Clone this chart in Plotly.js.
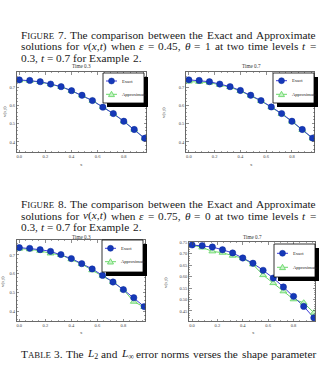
<!DOCTYPE html>
<html><head><meta charset="utf-8">
<script src="https://cdn.plot.ly/plotly-3.0.1.min.js"></script>
<style>html,body{margin:0;padding:0;background:#fff}#c{width:321px;height:368px}</style>
</head><body><div id="c"></div>
<script>
// ---- data ----
const xs = [0,0.08,0.16,0.24,0.32,0.40,0.48,0.56,0.64,0.72,0.80,0.88,0.96];
// Figure 7 (eps=0.45, theta=1)
const exact7_t03  = [0.739,0.736,0.729,0.716,0.702,0.680,0.655,0.626,0.590,0.555,0.513,0.468,0.420];
const approx7_t03 = [0.736,0.734,0.728,0.715,0.701,0.679,0.654,0.625,0.590,0.554,0.512,0.467,0.419];
const exact7_t07  = [0.739,0.736,0.729,0.716,0.702,0.681,0.655,0.626,0.591,0.555,0.513,0.468,0.421];
const approx7_t07 = [0.730,0.728,0.724,0.712,0.699,0.678,0.653,0.624,0.589,0.553,0.511,0.466,0.419];
// Figure 8 (eps=0.75, theta=0)
const exact8_t03  = [0.739,0.735,0.728,0.719,0.702,0.681,0.654,0.626,0.592,0.557,0.517,0.474,0.427];
const approx8_t03 = [0.733,0.730,0.722,0.708,0.700,0.677,0.652,0.619,0.590,0.557,0.517,0.453,0.425];
const exact8_t07  = [0.739,0.736,0.730,0.718,0.704,0.682,0.659,0.628,0.594,0.555,0.514,0.470,0.420];
const approx8_t07 = [0.739,0.728,0.711,0.705,0.692,0.681,0.654,0.607,0.572,0.536,0.501,0.486,0.442];
const seriesNames = ['Exact','Approximate'];
const panelTitles = ['Time 0.3','Time 0.7','Time 0.3','Time 0.7'];

// ---- helpers ----
const W=321,H=368;
const px=x=>x/W, py=y=>1-y/H;
const EXC='#1538b8', EXL='#3a3ad8', APL='#6ad86a', APF='#c6f2c6';
const SERIF='Liberation Serif, Times New Roman, serif';

const panels = [
  {ex:exact7_t03, ap:approx7_t03, fx:[16.7,146.5], fy:[72,152], xr:[-0.02,0.974], yr:[0.345,0.782], yd:0.1, ym:0.02, yf:'.1f',
   box:[103,73,144,103], e:81, a:94.3, title:[82,66], xt:[82,164], yt:[5,112]},
  {ex:exact7_t07, ap:approx7_t07, fx:[186,314.5], fy:[72,152], xr:[-0.022,0.975], yr:[0.345,0.782], yd:0.1, ym:0.02, yf:'.1f',
   box:[273,73,314,103], e:80.7, a:94.3, title:[251,66], xt:[251,164], yt:[164,112]},
  {ex:exact8_t03, ap:approx8_t03, fx:[16.7,145.5], fy:[240,321], xr:[-0.02,0.97], yr:[0.351,0.779], yd:0.1, ym:0.02, yf:'.1f',
   box:[102,240,143,272], e:248.3, a:261.7, title:[82,236.5], xt:[82,332], yt:[3,282]},
  {ex:exact8_t07, ap:approx8_t07, fx:[189,315], fy:[242,321], xr:[-0.024,0.969], yr:[0.406,0.752], yd:0.05, ym:0.01, yf:'.2f',
   box:[274,244,315,277], e:253.3, a:267.3, title:[252,237], xt:[253,332], yt:[166,282]}
];

const data=[]; const layout={width:W,height:H,margin:{l:0,r:0,t:0,b:0},showlegend:false,
  paper_bgcolor:'#fff',plot_bgcolor:'#fff',shapes:[],annotations:[]};

panels.forEach((p,i)=>{
  const n=i===0?'':String(i+1);
  const xa='x'+n, ya='y'+n;
  data.push({x:xs,y:p.ap,xaxis:xa,yaxis:ya,mode:'lines',line:{color:APL,width:1},hoverinfo:'skip'});
  data.push({x:xs,y:p.ex,xaxis:xa,yaxis:ya,mode:'lines',line:{color:EXL,width:1},hoverinfo:'skip'});
  data.push({x:xs,y:p.ap,xaxis:xa,yaxis:ya,mode:'markers',marker:{symbol:'triangle-up',size:6,color:APF,line:{color:APL,width:0.9}},hoverinfo:'skip'});
  data.push({x:xs,y:p.ex,xaxis:xa,yaxis:ya,mode:'markers',marker:{symbol:'circle',size:6.3,color:EXC,line:{color:'#0a2a9a',width:0.5}},hoverinfo:'skip'});
  const axCommon={showgrid:false,zeroline:false,showline:true,linecolor:'#444',linewidth:0.8,mirror:'allticks',
    ticks:'inside',ticklen:2.5,tickwidth:0.6,tickcolor:'#444',tickfont:{family:SERIF,size:4.5,color:'#444'}};
  layout['xaxis'+n]=Object.assign({},axCommon,{domain:[px(p.fx[0]),px(p.fx[1])],range:p.xr,anchor:ya,
    dtick:0.2,tick0:0,tickformat:'.1f',minor:{dtick:0.05,ticks:'inside',ticklen:1.3,tickcolor:'#444',tickwidth:0.5}});
  layout['yaxis'+n]=Object.assign({},axCommon,{domain:[py(p.fy[1]),py(p.fy[0])],range:p.yr,anchor:xa,
    dtick:p.yd,tick0:0,tickformat:p.yf,minor:{dtick:p.ym,ticks:'inside',ticklen:1.3,tickcolor:'#444',tickwidth:0.5}});
  // legend (shadowed box)
  const b=p.box;
  layout.shapes.push({type:'rect',xref:'paper',yref:'paper',x0:px(b[0]+4),x1:px(b[2]+4),y0:py(b[3]+4),y1:py(b[1]+4),fillcolor:'#000',line:{width:0}});
  layout.shapes.push({type:'rect',xref:'paper',yref:'paper',x0:px(b[0]),x1:px(b[2]),y0:py(b[3]),y1:py(b[1]),fillcolor:'#fff',line:{color:'#000',width:0.8}});
  const sx0=b[0]+3, sx1=b[0]+14, sc=(sx0+sx1)/2;
  layout.shapes.push({type:'line',xref:'paper',yref:'paper',x0:px(sx0),x1:px(sx1),y0:py(p.e),y1:py(p.e),line:{color:EXL,width:1}});
  layout.shapes.push({type:'circle',xref:'paper',yref:'paper',x0:px(sc-3),x1:px(sc+3),y0:py(p.e+3),y1:py(p.e-3),fillcolor:EXC,line:{color:'#0a2a9a',width:0.5}});
  layout.shapes.push({type:'line',xref:'paper',yref:'paper',x0:px(sx0),x1:px(sx1),y0:py(p.a),y1:py(p.a),line:{color:APL,width:1}});
  layout.shapes.push({type:'path',xref:'paper',yref:'paper',
    path:`M ${px(sc-3)} ${py(p.a+2.3)} L ${px(sc+3)} ${py(p.a+2.3)} L ${px(sc)} ${py(p.a-3)} Z`,fillcolor:APF,line:{color:APL,width:0.9}});
  layout.annotations.push({xref:'paper',yref:'paper',x:px(b[0]+16.5),y:py(p.e),xanchor:'left',yanchor:'middle',showarrow:false,
    text:seriesNames[0],font:{family:SERIF,size:4.6,color:'#222'}});
  layout.annotations.push({xref:'paper',yref:'paper',x:px(b[0]+16.5),y:py(p.a),xanchor:'left',yanchor:'middle',showarrow:false,
    text:seriesNames[1],font:{family:SERIF,size:4.6,color:'#222'}});
  layout.annotations.push({xref:'paper',yref:'paper',x:px(p.title[0]),y:py(p.title[1]),xanchor:'center',yanchor:'middle',showarrow:false,
    text:panelTitles[i],font:{family:SERIF,size:5.2,color:'#333'}});
  layout.annotations.push({xref:'paper',yref:'paper',x:px(p.xt[0]),y:py(p.xt[1]),xanchor:'center',yanchor:'middle',showarrow:false,
    text:'x',font:{family:SERIF,size:4.8,color:'#444'}});
  layout.annotations.push({xref:'paper',yref:'paper',x:px(p.yt[0]),y:py(p.yt[1]),xanchor:'center',yanchor:'middle',showarrow:false,textangle:-90,
    text:'v(x,t)',font:{family:SERIF,size:4.8,color:'#444'}});
});

// ---- caption text, justified word by word ----
const FS=11.3;
const ctx=document.createElement('canvas').getContext('2d');
const Rn=t=>({t,k:'r'}), It=t=>({t,k:'i'}), Sc=t=>({t,k:'s'}), Sb=t=>({t,k:'b'});
function runSize(r){return r.k==='s'?FS*0.78:(r.k==='b'?FS*0.7:FS);}
function measure(word){let w=0;word.forEach(r=>{ctx.font=(r.k==='i'?'italic ':'')+runSize(r)+'px "Liberation Serif"';w+=ctx.measureText(r.t).width;});return w;}
function html(word){return word.map(r=>r.k==='i'?'<i>'+r.t+'</i>':r.k==='s'?'<span style="font-size:'+(FS*0.78).toFixed(2)+'px">'+r.t+'</span>':r.k==='b'?'<sub>'+r.t+'</sub>':r.t).join('');}
function W_(s){return typeof s==='string'?[Rn(s)]:s;}
const L=20;
function line(words,y,right){
  words=words.map(W_);
  const ws=words.map(measure);
  const tot=ws.reduce((a,b)=>a+b,0);
  const gap=(right-L-tot)/(words.length-1);
  let x=L;
  words.forEach((w,i)=>{
    layout.annotations.push({xref:'paper',yref:'paper',x:px(x-1),y:py(y),xanchor:'left',yanchor:'middle',showarrow:false,
      text:html(w),font:{family:SERIF,size:FS,color:'#1a1a1a'}});
    x+=ws[i]+gap;
  });
}
const vxt=[It('v'),Rn('('),It('x'),Rn(','),It('t'),Rn(')')];
line([[Rn('F'),Sc('IGURE')],'7.','The','comparison','between','the','Exact','and','Approximate'],34.5,315);
line(['solutions','for',vxt,'when',[It('ε')],'=','0.45,',[It('θ')],'=','1','at','two','time','levels',[It('t')],'='],46,315);
line(['0.3,',[It('t')],'=','0.7','for','Example','2.'],57.5,140);
line([[Rn('F'),Sc('IGURE')],'8.','The','comparison','between','the','Exact','and','Approximate'],204,315);
line(['solutions','for',vxt,'when',[It('ε')],'=','0.75,',[It('θ')],'=','0','at','two','time','levels',[It('t')],'='],215.5,315);
line(['0.3,',[It('t')],'=','0.7','for','Example','2.'],227,140);
line([[Rn('T'),Sc('ABLE')],'3.','The',[It('L'),Sb('2')],'and',[It('L'),Sb('∞')],'error','norms','verses','the','shape','parameter'],354,315);

Plotly.newPlot('c',data,layout,{staticPlot:true,displayModeBar:false});
</script></body></html>
